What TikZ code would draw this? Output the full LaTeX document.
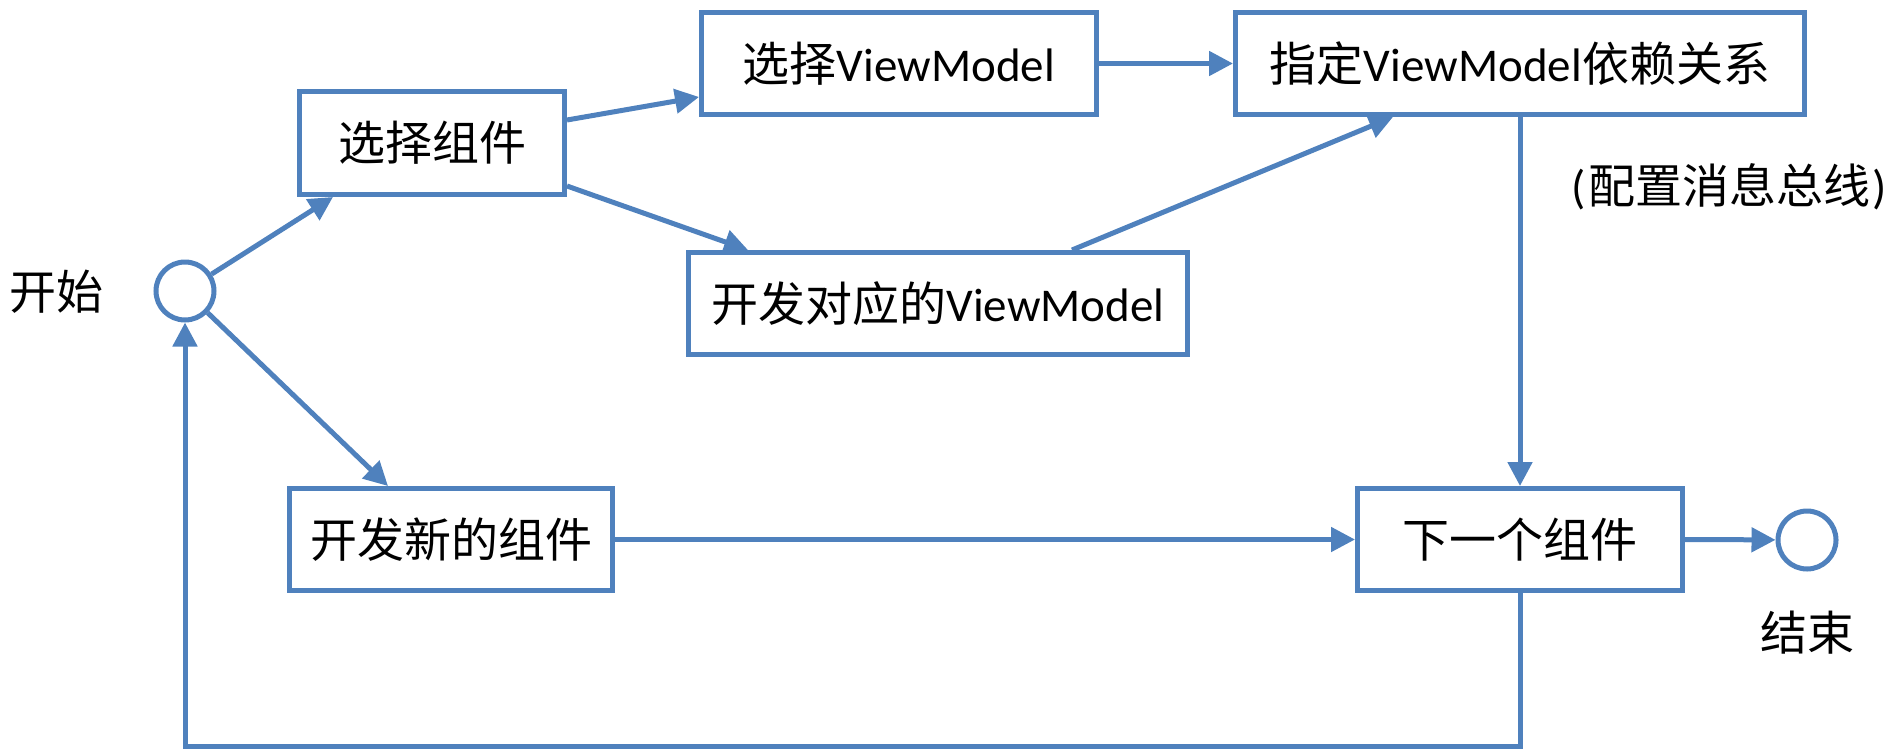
\documentclass[tikz,border=0pt]{standalone}
\usepackage{fontspec}
\setmainfont{Carlito}
\newfontfamily\cjk{Noto Sans CJK SC}
\usetikzlibrary{arrows.meta,shadows,calc}
\definecolor{lineblue}{HTML}{4F81BD}
\begin{document}
\begin{tikzpicture}[x=0.5pt,y=-0.5pt,
  txt/.style={font=\fontsize{23.5pt}{28pt}\selectfont, inner sep=0pt},
  box/.style={txt, draw=lineblue, line width=2.5pt, fill=white, rectangle,
    minimum height=51pt,
    drop shadow={opacity=0.18, shadow xshift=0.8pt, shadow yshift=-1.2pt}},
  ring/.style={draw=lineblue, line width=2.5pt, fill=white, circle, minimum size=29pt, inner sep=0pt},
  arr/.style={draw=lineblue, line width=2.5pt, -{Triangle[length=12pt,width=12pt]}}]
\useasboundingbox (0,0) rectangle (1895,750);
% nodes
\node[ring] (start) at (185,291) {};
\node[ring] (end) at (1807,540) {};
\node[box, minimum width=132.5pt, minimum height=51.5pt] (s1) at (432,143) {{\cjk 选择组件}};
\node[box, minimum width=197.5pt] (vm) at (899,63.5) {{\cjk 选择}ViewModel};
\node[box, minimum width=284.5pt] (dep) at (1520,63.5) {{\cjk 指定}ViewModel{\cjk 依赖关系}};
\node[box, minimum width=249.5pt] (dev) at (938,303.5) {{\cjk 开发对应的}ViewModel};
\node[box, minimum width=161.5pt] (new) at (451,539.5) {{\cjk 开发新的组件}};
\node[box, minimum width=162.5pt] (next) at (1520,539.5) {{\cjk 下一个组件}};
\node[txt] (lstart) at (57,292) {{\cjk 开始}};
\node[txt] (lend) at (1807,633) {{\cjk 结束}};
\node[txt] (bus) at (1729,187) {(\kern1pt{\cjk 配置消息总线}\kern1pt)};
% connectors
\draw[arr] (start) -- ([xshift=18pt]s1.south west);
\draw[arr] (start) -- ([xshift=50.5pt]new.north west);
\draw[arr] ([yshift=11.5pt]s1.east) -- ([yshift=-16.75pt]vm.west);
\draw[arr] ([yshift=-21.5pt]s1.east) -- ([xshift=31pt]dev.north west);
\draw[arr] (vm.east) -- (dep.west);
\draw[arr] ([xshift=193pt]dev.north west) -- ([xshift=80pt]dep.south west);
\draw[arr] (dep.south) -- (next.north);
\draw[arr] (new.east) -- (next.west);
\draw[arr] (next.east) -- (end);
\coordinate (lb) at (1520,746);
\draw[arr] (next.south) -- (lb) -| (start.south);
\end{tikzpicture}
\end{document}
